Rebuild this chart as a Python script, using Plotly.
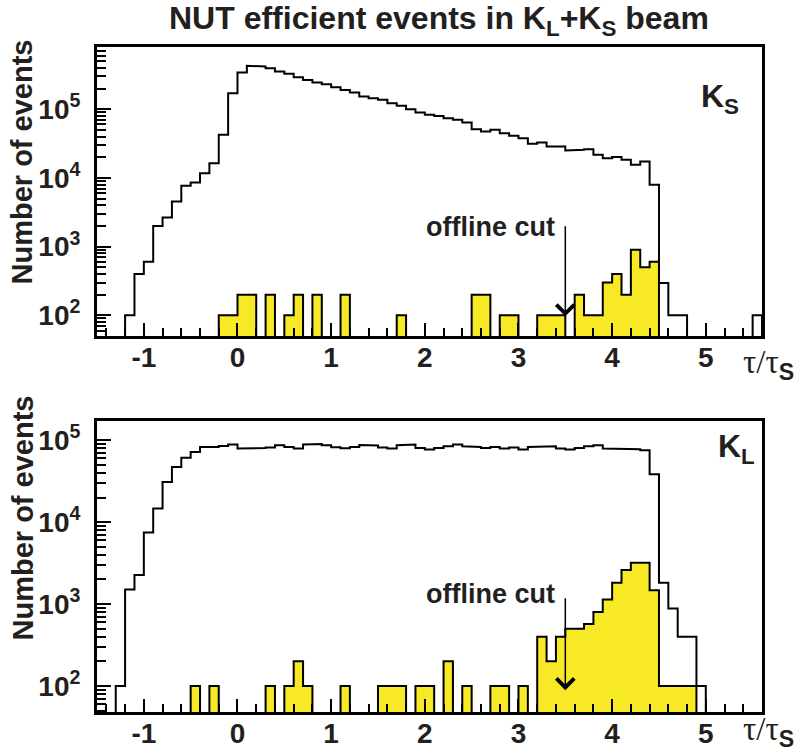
import math
import plotly.graph_objects as go

# ---------------- data ----------------
x_min, bin_width, n_bins = -1.5, 0.1, 71
edges = [round(x_min + bin_width * i, 2) for i in range(n_bins + 1)]

# K_S beam: all NUT-efficient events
ks_all = [0, 0, 0, 100, 400, 600, 2000, 2660, 4550, 7700,
          8600, 11700, 16400, 42400, 171000, 342000, 428000, 418000, 395000, 353000,
          327000, 292000, 267000, 244000, 231000, 209000, 191000, 175000, 153000, 145000,
          137000, 122000, 112000, 100000, 89500, 82800, 80000, 74100, 70000, 64100,
          51200, 47400, 50100, 44800, 41000, 37900, 31400, 32800, 28700, 28700,
          25100, 25600, 26200, 21700, 19400, 20100, 18400, 15500, 17400, 7950,
          295, 100, 100, 0, 0, 0, 0, 0, 0, 0, 100]
# K_S beam: selected (yellow)
ks_cut = [0, 0, 0, 0, 0, 0, 0, 0, 0, 0,
          0, 0, 0, 100, 100, 200, 200, 0, 200, 0,
          100, 200, 0, 200, 0, 0, 200, 0, 0, 0,
          0, 0, 100, 0, 0, 0, 0, 0, 0, 0,
          200, 200, 0, 100, 100, 0, 0, 100, 100, 100,
          0, 200, 100, 100, 300, 400, 200, 900, 500, 600,
          0, 0, 0, 0, 0, 0, 0, 0, 0, 0, 0]
# K_L beam: all NUT-efficient events
kl_all = [0, 0, 100, 1510, 2260, 7480, 14700, 31000, 47300, 61000,
          72100, 83000, 83000, 85300, 88600, 79100, 80600, 80600, 81400, 86900,
          83000, 79100, 88600, 90200, 86900, 82200, 79800, 83000, 87700, 86100,
          81400, 79100, 86900, 88600, 80600, 76900, 80600, 84500, 88600, 84500,
          83000, 80600, 83000, 79100, 81400, 76900, 83000, 83000, 84500, 79100,
          76900, 80600, 84500, 86900, 79100, 79100, 79100, 77600, 75500, 38400,
          1820, 885, 400, 400, 100, 0, 0, 0, 0, 0, 0]
# K_L beam: selected (yellow)
kl_cut = [0, 0, 0, 0, 0, 0, 0, 0, 0, 0,
          100, 0, 100, 0, 0, 0, 0, 0, 100, 0,
          100, 200, 100, 0, 0, 0, 100, 0, 0, 0,
          100, 100, 100, 0, 100, 100, 0, 200, 0, 100,
          0, 0, 100, 100, 0, 100, 0, 400, 200, 400,
          500, 500, 570, 800, 1140, 1820, 2600, 3190, 3190, 1480,
          100, 100, 100, 100, 0, 0, 0, 0, 0, 0, 0]

x_tick_vals = [-1, 0, 1, 2, 3, 4, 5]
x_tick_text = ["-1", "0", "1", "2", "3", "4", "5"]
y_tick_vals = [1e2, 1e3, 1e4, 1e5]
y_tick_text = ["10<sup>2</sup>", "10<sup>3</sup>", "10<sup>4</sup>", "10<sup>5</sup>"]
offline_cut = 3.5

# ---------------- helpers ----------------
W, H = 806, 753
FLOOR = 1.0  # below visible log range -> drawn along/under the axis
TXT = "#231f20"
YELLOW = "#f7e926"
TICKC = "black"


def steps(vals):
    xs, ys = [edges[0]], [FLOOR]
    for i, v in enumerate(vals):
        vv = v if v > 0 else FLOOR
        xs += [edges[i], edges[i + 1]]
        ys += [vv, vv]
    xs.append(edges[-1])
    ys.append(FLOOR)
    return xs, ys


def px(x):
    return x / W


def py(y):
    return 1 - y / H


fig = go.Figure()
for vals_all, vals_cut, xa, ya in [(ks_all, ks_cut, "x", "y"), (kl_all, kl_cut, "x2", "y2")]:
    xs, ys = steps(vals_all)
    fig.add_trace(go.Scatter(x=xs, y=ys, mode="lines", xaxis=xa, yaxis=ya,
                             line=dict(color="black", width=2), showlegend=False,
                             hoverinfo="skip"))
    xs, ys = steps(vals_cut)
    fig.add_trace(go.Scatter(x=xs, y=ys, mode="lines", xaxis=xa, yaxis=ya, fill="toself",
                             fillcolor=YELLOW, line=dict(color="black", width=2),
                             showlegend=False, hoverinfo="skip"))

xdom = [px(97), px(762)]
xtickfont = dict(family="Liberation Sans", size=28, color=TXT, weight="bold")
ytickfont = dict(family="Liberation Sans", size=28, color=TXT, weight="bold")


def xaxis_cfg(anchor):
    return dict(range=[edges[0], edges[-1]], domain=xdom, anchor=anchor,
                showline=True, linewidth=3, linecolor="black", mirror=True,
                ticks="inside", ticklen=13, tickwidth=2, tickcolor=TICKC,
                tickmode="array", tickvals=x_tick_vals, ticktext=x_tick_text,
                tickfont=xtickfont, showgrid=False, zeroline=False,
                ticklabelstandoff=-6, layer="above traces",
                minor=dict(ticks="inside", ticklen=8, tickwidth=2, tickcolor=TICKC,
                           dtick=0.2, tick0=0, showgrid=False))


def yaxis_cfg(anchor, dom, rng):
    return dict(type="log", range=rng, domain=dom, anchor=anchor,
                showline=True, linewidth=3, linecolor="black", mirror=True,
                ticks="inside", ticklen=14, tickwidth=2, tickcolor=TICKC,
                tickmode="array", tickvals=y_tick_vals, ticktext=y_tick_text,
                tickfont=ytickfont, showgrid=False, zeroline=False,
                ticklabelstandoff=8, layer="above traces",
                minor=dict(ticks="inside", ticklen=9, tickwidth=2, tickcolor=TICKC,
                           dtick="D1", showgrid=False))


fig.update_layout(
    width=W, height=H, margin=dict(l=0, r=0, t=0, b=0),
    paper_bgcolor="white", plot_bgcolor="white",
    xaxis=xaxis_cfg("y"),
    yaxis=yaxis_cfg("x", [py(336), py(46.7)], [math.log10(50), 5.91]),
    xaxis2=xaxis_cfg("y2"),
    yaxis2=yaxis_cfg("x2", [py(712), py(421)], [1.683, 5.235]),
)

ann = []
bold = lambda s: "<b>" + s + "</b>"
ann.append(dict(text=bold("NUT efficient events in K<sub>L</sub>+K<sub>S</sub> beam"),
                x=px(439), y=py(21), xref="paper", yref="paper", showarrow=False,
                xanchor="center", yanchor="middle",
                font=dict(family="Liberation Sans", size=32, color=TXT)))
for ytop in (38, 394):
    ann.append(dict(text=bold("Number of events"), textangle=-90,
                    x=px(22), y=py(ytop), xref="paper", yref="paper", showarrow=False,
                    xanchor="center", yanchor="top",
                    font=dict(family="Liberation Sans", size=29, color=TXT)))
ann.append(dict(text=bold("K<sub>S</sub>"), x=px(699), y=py(76), xref="paper", yref="paper",
                showarrow=False, xanchor="left", yanchor="top",
                font=dict(family="Liberation Sans", size=32, color=TXT)))
ann.append(dict(text=bold("K<sub>L</sub>"), x=px(716), y=py(426), xref="paper", yref="paper",
                showarrow=False, xanchor="left", yanchor="top",
                font=dict(family="Liberation Sans", size=32, color=TXT)))
for yc in (227, 594):
    ann.append(dict(text=bold("offline cut"), x=px(557), y=py(yc), xref="paper", yref="paper",
                    showarrow=False, xanchor="right", yanchor="middle",
                    font=dict(family="Liberation Sans", size=27, color=TXT)))
tau = ("<span style='font-family:Liberation Serif'>τ/τ</span>"
       "<sub><b>S</b></sub>")
for yc in (364, 731):
    ann.append(dict(text=tau, x=px(741), y=py(yc), xref="paper", yref="paper",
                    showarrow=False, xanchor="left", yanchor="middle",
                    font=dict(family="Liberation Sans", size=33, color=TXT)))
# offline-cut arrows
ann.append(dict(text="", x=offline_cut, y=1.985, ax=offline_cut, ay=3.318,
                xref="x", yref="y", axref="x", ayref="y", showarrow=True,
                arrowhead=4, arrowsize=2.3, arrowwidth=1.5, arrowcolor="black"))
ann.append(dict(text="", x=offline_cut, y=1.95, ax=offline_cut, ay=3.089,
                xref="x2", yref="y2", axref="x2", ayref="y2", showarrow=True,
                arrowhead=4, arrowsize=2.3, arrowwidth=1.5, arrowcolor="black"))
fig.update_layout(annotations=ann)

fig.write_html("out.html", config={"displayModeBar": False},
               post_script="document.body.style.margin='0px';"
                           "document.body.style.overflow='hidden';")
